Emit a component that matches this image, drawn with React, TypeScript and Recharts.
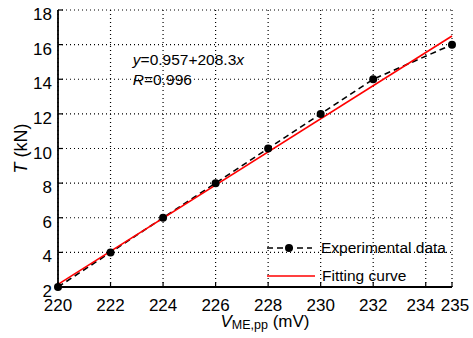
import React from 'react'
import { LineChart, Line, XAxis, YAxis, CartesianGrid, Legend, ReferenceDot } from 'recharts'

// measured points
const voltage = [220, 222, 224, 226, 228, 230, 232, 235]
const thrust = [2, 4, 6, 8, 10, 12, 14, 16]
// linear fit end points
const fitVoltage = [220, 235]
const fitThrust = [2.15, 16.5]

const xTicks = [220, 222, 224, 226, 228, 230, 232, 234, 235]
const yTicks = [2, 4, 6, 8, 10, 12, 14, 16, 18]

const expData = voltage.map((x, i) => ({ x, y: thrust[i] }))
const fitData = fitVoltage.map((x, i) => ({ x, y: fitThrust[i] }))

const font = '"Liberation Sans", Arial, sans-serif'

const BottomTick = (p: any) => {
  const v = p.payload.value
  const dx = v === 234 ? -5 : v === 235 ? 3 : 0
  return (
    <g>
      <line x1={p.x} x2={p.x} y1={p.y} y2={p.y - 5} stroke="#000" strokeWidth={1.2} />
      <text x={p.x + dx} y={p.y + 24} textAnchor="middle" fontSize={17} fill="#000" fontFamily={font}>
        {v}
      </text>
    </g>
  )
}

const LeftTick = (p: any) => (
  <g>
    <line x1={p.x} x2={p.x + 5} y1={p.y} y2={p.y} stroke="#000" strokeWidth={1.2} />
    <text x={p.x - 6} y={p.y + 10} textAnchor="end" fontSize={17} fill="#000" fontFamily={font}>
      {p.payload.value}
    </text>
  </g>
)

const TopTick = (p: any) => (
  <line x1={p.x} x2={p.x} y1={p.y} y2={p.y + 5} stroke="#000" strokeWidth={1.2} />
)

const RightTick = (p: any) => (
  <line x1={p.x} x2={p.x - 5} y1={p.y} y2={p.y} stroke="#000" strokeWidth={1.2} />
)

const LegendBox = () => (
  <svg width={200} height={50} style={{ display: 'block', fontFamily: font }}>
    <line x1={5} x2={50} y1={12} y2={12} stroke="#000" strokeWidth={1.6} strokeDasharray="6 4" />
    <circle cx={27} cy={12} r={4} fill="#000" />
    <text x={59} y={17} fontSize={15.5} fill="#000">Experimental data</text>
    <line x1={5} x2={53} y1={40} y2={40} stroke="#ff0000" strokeWidth={1.6} />
    <text x={60} y={45} fontSize={15.5} fill="#000">Fitting curve</text>
  </svg>
)

const Equation = (props: any) => {
  const { x, y } = props.viewBox
  return (
    <text x={x} y={y} fontSize={15.5} fill="#000" fontFamily={font}>
      <tspan fontStyle="italic">y</tspan>
      <tspan>=0.957+208.3</tspan>
      <tspan fontStyle="italic">x</tspan>
      <tspan x={x} dy={20} fontStyle="italic">R</tspan>
      <tspan>=0.996</tspan>
    </text>
  )
}

const XLabel = (props: any) => {
  const { x, y, width } = props.viewBox
  return (
    <text x={x + width / 2 + 10} y={y + 40} textAnchor="middle" fontSize={17} fill="#000" fontFamily={font}>
      <tspan fontStyle="italic">V</tspan>
      <tspan fontSize={12.5} dy={2}>ME,pp</tspan>
      <tspan dy={-2}> (mV)</tspan>
    </text>
  )
}

const YLabel = (props: any) => {
  const { y, height } = props.viewBox
  const cy = y + height / 2
  return (
    <text x={27} y={cy} transform={`rotate(-90 27 ${cy})`} textAnchor="middle" fontSize={18} fill="#000" fontFamily={font}>
      <tspan fontStyle="italic">T</tspan>
      <tspan> (kN)</tspan>
    </text>
  )
}

export default function App() {
  return (
    <div style={{ position: 'absolute', left: 0, top: 0, background: '#fff' }}>
      <LineChart width={473} height={338} margin={{ top: 10, right: 21, bottom: 0, left: 0 }}>
        <CartesianGrid stroke="#000" strokeDasharray="1 3" strokeWidth={1.2} />
        <XAxis
          dataKey="x"
          type="number"
          domain={[220, 235]}
          ticks={xTicks}
          interval={0}
          height={51}
          tickSize={0}
          tickMargin={0}
          tickLine={false}
          axisLine={{ stroke: '#000', strokeWidth: 1.8 }}
          tick={BottomTick}
          label={{ content: XLabel }}
        />
        <XAxis
          xAxisId="top"
          orientation="top"
          type="number"
          domain={[220, 235]}
          ticks={xTicks}
          interval={0}
          height={0}
          tickSize={0}
          tickMargin={0}
          tickLine={false}
          axisLine={{ stroke: '#000', strokeWidth: 1.8 }}
          tick={TopTick}
        />
        <YAxis
          type="number"
          domain={[2, 18]}
          ticks={yTicks}
          interval={0}
          width={58}
          tickSize={0}
          tickMargin={0}
          tickLine={false}
          axisLine={{ stroke: '#000', strokeWidth: 1.8 }}
          tick={LeftTick}
          label={{ content: YLabel }}
        />
        <YAxis
          yAxisId="right"
          orientation="right"
          type="number"
          domain={[2, 18]}
          ticks={yTicks}
          interval={0}
          width={0}
          tickSize={0}
          tickMargin={0}
          tickLine={false}
          axisLine={{ stroke: '#000', strokeWidth: 1.8 }}
          tick={RightTick}
        />
        <Line
          data={expData}
          dataKey="y"
          stroke="#000"
          strokeWidth={1.6}
          strokeDasharray="6 4"
          dot={{ r: 4, fill: '#000', stroke: '#000', strokeWidth: 0, clipDot: false }}
          isAnimationActive={false}
        />
        <Line
          data={fitData}
          dataKey="y"
          stroke="#ff0000"
          strokeWidth={1.6}
          dot={false}
          isAnimationActive={false}
        />
        <ReferenceDot x={222.85} y={14.8} r={0} stroke="none" fill="none" label={{ content: Equation }} />
        <Legend
          layout="horizontal"
          verticalAlign="middle"
          align="center"
          content={LegendBox}
          wrapperStyle={{ left: 262, top: 236, width: 200, height: 50 }}
        />
      </LineChart>
    </div>
  )
}
